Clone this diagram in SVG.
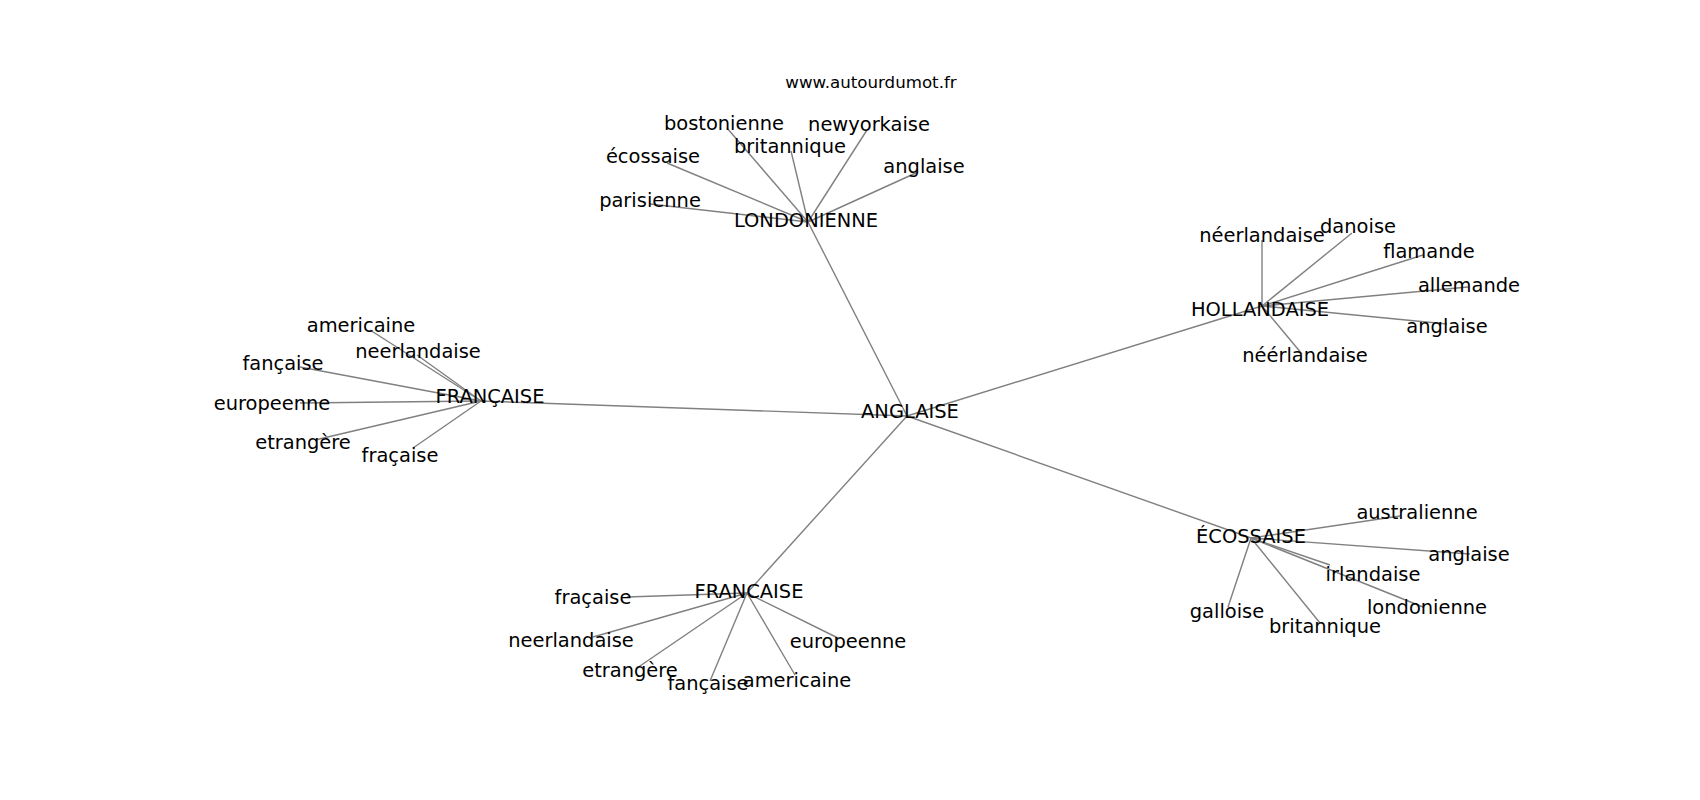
<svg xmlns="http://www.w3.org/2000/svg" width="1700" height="800" viewBox="0 0 1700 800">
<style>
.e{stroke:#808080;stroke-width:1.4;fill:none}
.n text{font-family:"DejaVu Sans",sans-serif;font-size:19.44px;fill:#000;text-anchor:middle}
.t{font-family:"DejaVu Sans",sans-serif;font-size:16.67px;fill:#000;text-anchor:middle}
</style>
<rect width="1700" height="800" fill="#fff"/>
<text class="t" x="871" y="88">www.autourdumot.fr</text>
<g id="edges">
<line class="e" x1="907" y1="416" x2="808" y2="222"/>
<line class="e" x1="907" y1="416" x2="481" y2="401"/>
<line class="e" x1="907" y1="416" x2="1262" y2="306"/>
<line class="e" x1="907" y1="416" x2="1251" y2="538"/>
<line class="e" x1="907" y1="416" x2="747" y2="593"/>
<line class="e" x1="808" y1="222" x2="727" y2="128"/>
<line class="e" x1="808" y1="222" x2="791" y2="151"/>
<line class="e" x1="808" y1="222" x2="867" y2="130"/>
<line class="e" x1="808" y1="222" x2="667" y2="163"/>
<line class="e" x1="808" y1="222" x2="650" y2="204"/>
<line class="e" x1="808" y1="222" x2="918" y2="172"/>
<line class="e" x1="481" y1="401" x2="370" y2="330"/>
<line class="e" x1="481" y1="401" x2="417" y2="355"/>
<line class="e" x1="481" y1="401" x2="300" y2="367"/>
<line class="e" x1="481" y1="401" x2="300" y2="403"/>
<line class="e" x1="481" y1="401" x2="315" y2="440"/>
<line class="e" x1="481" y1="401" x2="413" y2="448"/>
<line class="e" x1="1262" y1="306" x2="1262" y2="240"/>
<line class="e" x1="1262" y1="306" x2="1352" y2="233"/>
<line class="e" x1="1262" y1="306" x2="1423" y2="255"/>
<line class="e" x1="1262" y1="306" x2="1468" y2="287"/>
<line class="e" x1="1262" y1="306" x2="1447" y2="324"/>
<line class="e" x1="1262" y1="306" x2="1302" y2="354"/>
<line class="e" x1="1251" y1="538" x2="1400" y2="516"/>
<line class="e" x1="1251" y1="538" x2="1470" y2="554"/>
<line class="e" x1="1251" y1="538" x2="1330" y2="565"/>
<line class="e" x1="1251" y1="538" x2="1423" y2="607"/>
<line class="e" x1="1251" y1="538" x2="1228" y2="607"/>
<line class="e" x1="1251" y1="538" x2="1320" y2="623"/>
<line class="e" x1="747" y1="593" x2="627" y2="597"/>
<line class="e" x1="747" y1="593" x2="593" y2="637"/>
<line class="e" x1="747" y1="593" x2="637" y2="668"/>
<line class="e" x1="747" y1="593" x2="710" y2="681"/>
<line class="e" x1="747" y1="593" x2="795" y2="675"/>
<line class="e" x1="747" y1="593" x2="838" y2="638"/>
</g>
<g class="n">
<g id="n-anglaise-c"><text x="910" y="418">ANGLAISE</text></g>
<g id="n-londonienne-c"><text x="806" y="227">LONDONIENNE</text></g>
<g id="n-bostonienne"><text x="724" y="130">bostonienne</text></g>
<g id="n-britannique-l"><text x="790" y="153">britannique</text></g>
<g id="n-newyorkaise"><text x="869" y="131">newyorkaise</text></g>
<g id="n-ecossaise-l"><text x="653" y="163">écossaise</text></g>
<g id="n-parisienne"><text x="650" y="207">parisienne</text></g>
<g id="n-anglaise-l"><text x="924" y="173">anglaise</text></g>
<g id="n-francaise-cedille"><text x="490" y="403">FRANÇAISE</text></g>
<g id="n-americaine-1"><text x="361" y="332">americaine</text></g>
<g id="n-neerlandaise-1"><text x="418" y="358">neerlandaise</text></g>
<g id="n-fancaise-1"><text x="283" y="370">fançaise</text></g>
<g id="n-europeenne-1"><text x="272" y="410">europeenne</text></g>
<g id="n-etrangere-1"><text x="303" y="449">etrangère</text></g>
<g id="n-fracaise-1"><text x="400" y="462">fraçaise</text></g>
<g id="n-hollandaise"><text x="1260" y="316">HOLLANDAISE</text></g>
<g id="n-neerlandaise-h1"><text x="1262" y="242">néerlandaise</text></g>
<g id="n-danoise"><text x="1358" y="233">danoise</text></g>
<g id="n-flamande"><text x="1429" y="258">flamande</text></g>
<g id="n-allemande"><text x="1469" y="292">allemande</text></g>
<g id="n-anglaise-h"><text x="1447" y="333">anglaise</text></g>
<g id="n-neerlandaise-h2"><text x="1305" y="362">néérlandaise</text></g>
<g id="n-ecossaise-c"><text x="1251" y="543">ÉCOSSAISE</text></g>
<g id="n-australienne"><text x="1417" y="519">australienne</text></g>
<g id="n-anglaise-e"><text x="1469" y="561">anglaise</text></g>
<g id="n-irlandaise"><text x="1373" y="581">irlandaise</text></g>
<g id="n-londonienne-e"><text x="1427" y="614">londonienne</text></g>
<g id="n-galloise"><text x="1227" y="618">galloise</text></g>
<g id="n-britannique-e"><text x="1325" y="633">britannique</text></g>
<g id="n-francaise"><text x="749" y="598">FRANCAISE</text></g>
<g id="n-fracaise-2"><text x="593" y="604">fraçaise</text></g>
<g id="n-neerlandaise-2"><text x="571" y="647">neerlandaise</text></g>
<g id="n-etrangere-2"><text x="630" y="677">etrangère</text></g>
<g id="n-fancaise-2"><text x="708" y="690">fançaise</text></g>
<g id="n-americaine-2"><text x="797" y="687">americaine</text></g>
<g id="n-europeenne-2"><text x="848" y="648">europeenne</text></g>
</g>
</svg>
